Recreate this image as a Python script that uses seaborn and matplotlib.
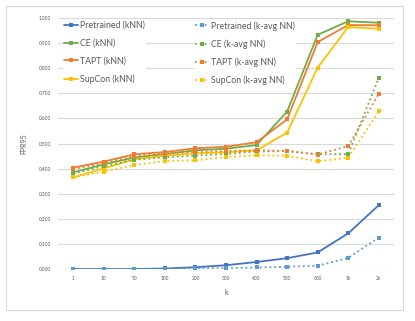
import numpy as np
import pandas as pd
import seaborn as sns
import matplotlib.pyplot as plt
from matplotlib.ticker import FormatStrFormatter

k_labels = ['1', '10', '50', '100', '200', '300', '400', '500', '600', '1k', '2k']

pretrained_knn = [0.000, 0.000, 0.000, 0.002, 0.007, 0.015, 0.028, 0.043, 0.066, 0.142, 0.254]
ce_knn = [0.385, 0.417, 0.444, 0.458, 0.473, 0.479, 0.494, 0.627, 0.933, 0.987, 0.981]
tapt_knn = [0.404, 0.428, 0.457, 0.466, 0.481, 0.487, 0.505, 0.596, 0.904, 0.972, 0.971]
supcon_knn = [0.365, 0.401, 0.437, 0.451, 0.461, 0.465, 0.473, 0.543, 0.802, 0.964, 0.957]

pretrained_kavg = [0.000, 0.000, 0.000, 0.000, 0.002, 0.003, 0.006, 0.009, 0.013, 0.044, 0.125]
ce_kavg = [0.380, 0.410, 0.435, 0.445, 0.452, 0.458, 0.468, 0.470, 0.457, 0.458, 0.761]
tapt_kavg = [0.398, 0.422, 0.450, 0.460, 0.466, 0.470, 0.473, 0.470, 0.456, 0.490, 0.697]
supcon_kavg = [0.365, 0.388, 0.414, 0.430, 0.433, 0.446, 0.453, 0.451, 0.429, 0.443, 0.628]

series = [
    ('Pretrained (kNN)', pretrained_knn, '#4472C4', '-'),
    ('CE (kNN)', ce_knn, '#70AD47', '-'),
    ('TAPT (kNN)', tapt_knn, '#ED7D31', '-'),
    ('SupCon (kNN)', supcon_knn, '#FFC000', '-'),
    ('Pretrained (k-avg NN)', pretrained_kavg, '#5B9BD5', ':'),
    ('CE (k-avg NN)', ce_kavg, '#70AD47', ':'),
    ('TAPT (k-avg NN)', tapt_kavg, '#ED7D31', ':'),
    ('SupCon (k-avg NN)', supcon_kavg, '#FFC000', ':'),
]

sns.set_style('white')
plt.rcParams['font.family'] = ['Lato', 'DejaVu Sans']

fig = plt.figure(figsize=(4.15, 3.21), dpi=100)
ax = fig.add_axes([58 / 415, 1 - 269 / 321, (394 - 58) / 415, (269 - 18) / 321])

pos = np.arange(len(k_labels))
for name, vals, color, ls in series:
    df = pd.DataFrame({'k': pos, 'fpr': vals})
    sns.lineplot(data=df, x='k', y='fpr', ax=ax, color=color, linestyle=ls,
                 linewidth=1.3, marker='s', markersize=2.8, markeredgewidth=0,
                 label=name, zorder=3)

ax.set_xlim(-0.5, len(k_labels) - 0.5)
ax.set_ylim(0, 1.0)
ax.set_xticks(pos)
ax.set_xticklabels(k_labels)
ax.set_yticks(np.arange(0, 1.01, 0.1))
ax.yaxis.set_major_formatter(FormatStrFormatter('%.3f'))
ax.tick_params(axis='both', labelsize=3.5, colors='#595959', length=0, pad=5)
ax.grid(axis='y', color='#D9D9D9', linewidth=0.8, zorder=0)
for s in ax.spines.values():
    s.set_visible(False)
ax.set_xlabel('k', fontsize=5, color='#595959', labelpad=6)
ax.set_ylabel('FPR95', fontsize=5, color='#595959', labelpad=8)

handles, labels = ax.get_legend_handles_labels()
ax.get_legend().remove()
leg_kw = dict(loc='upper left', fontsize=6.3, frameon=True, framealpha=1,
              edgecolor='white', handlelength=1.6, labelspacing=1.0,
              borderpad=0.0, borderaxespad=0.0, handletextpad=0.2)
leg1 = fig.legend(handles[:4], labels[:4], bbox_to_anchor=(64 / 415, 1 - 21 / 321), **leg_kw)
leg2 = fig.legend(handles[4:], labels[4:], bbox_to_anchor=(195 / 415, 1 - 21 / 321), **leg_kw)
for leg in (leg1, leg2):
    leg.set_zorder(2.5)
    for t in leg.get_texts():
        t.set_color('#595959')

border = plt.Rectangle((6 / 415, 1 - 310 / 321), (403 - 6) / 415, (310 - 6) / 321,
                       transform=fig.transFigure, fill=False, edgecolor='#D9D9D9', linewidth=0.8)
fig.patches.append(border)

fig.savefig('out.png', dpi=100)
